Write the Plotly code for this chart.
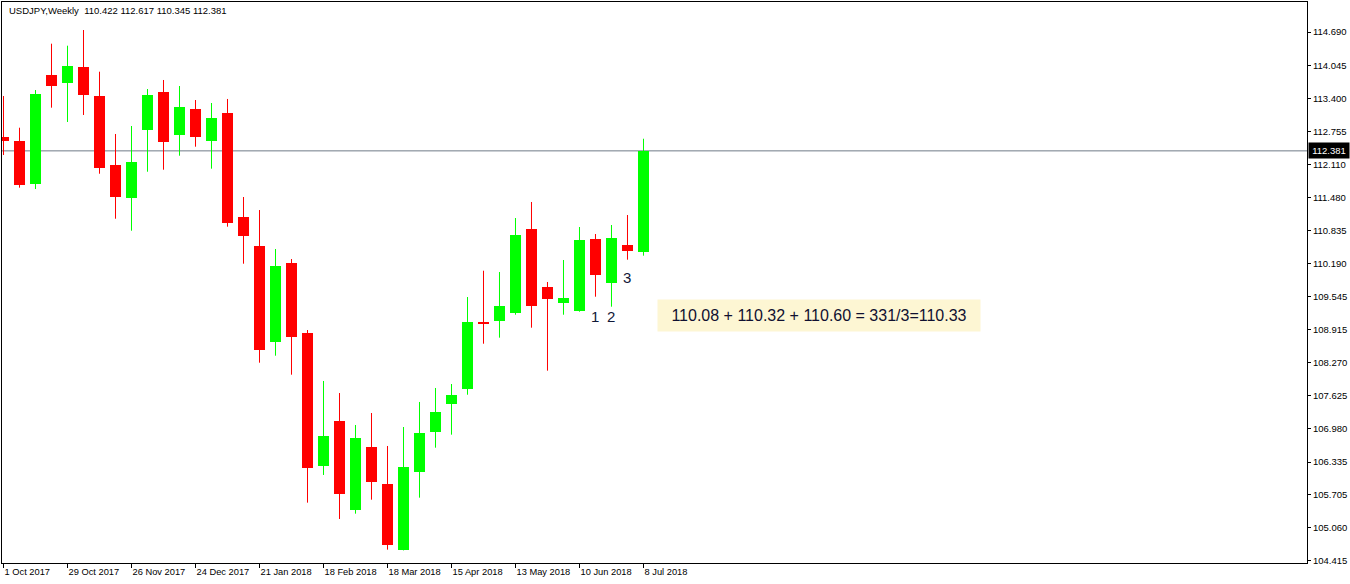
import plotly.graph_objects as go

# ---------------- data (USDJPY weekly) ----------------
week_labels = ["1 Oct 2017", "29 Oct 2017", "26 Nov 2017", "24 Dec 2017", "21 Jan 2018",
               "18 Feb 2018", "18 Mar 2018", "15 Apr 2018", "13 May 2018", "10 Jun 2018",
               "8 Jul 2018"]
label_step = 4  # one date label every 4 weekly bars

opens = [112.650, 112.573, 111.743, 113.855, 113.705, 114.010, 113.447, 112.112, 111.471, 112.792,
         113.524, 112.695, 113.194, 112.578, 113.117, 111.096, 110.533, 108.674, 110.203, 108.843,
         106.265, 107.134, 105.411, 106.629, 105.910, 104.634, 106.149, 106.926, 107.470, 107.761,
         109.057, 109.082, 109.237, 110.863, 109.737, 109.432, 109.276, 110.669, 109.820, 110.552,
         110.422]
highs = [113.447, 112.831, 113.563, 114.463, 114.424, 114.729, 113.919, 112.709, 112.864, 113.583,
         113.758, 113.641, 113.369, 113.311, 113.389, 111.485, 111.232, 110.475, 110.280, 108.901,
         107.911, 107.677, 107.056, 107.289, 106.648, 107.017, 107.503, 107.775, 107.852, 109.542,
         110.053, 110.028, 111.077, 111.388, 109.834, 110.261, 110.902, 110.766, 110.941, 111.135,
         112.617]
lows = [112.301, 111.666, 111.640, 113.220, 112.942, 113.078, 111.937, 111.063, 110.830, 111.976,
        112.015, 112.287, 112.462, 112.035, 110.908, 110.189, 108.266, 108.402, 108.033, 105.547,
        106.085, 105.230, 105.333, 105.605, 104.634, 104.620, 105.644, 106.615, 106.868, 107.644,
        108.635, 108.752, 109.198, 108.946, 108.111, 109.198, 109.257, 109.548, 109.354, 110.267,
        110.345]
closes = [112.573, 111.718, 113.486, 113.647, 114.030, 113.472, 112.054, 111.491, 112.165, 113.466,
          112.559, 113.233, 112.656, 113.019, 110.986, 110.733, 108.519, 110.145, 108.771, 106.226,
          106.842, 105.721, 106.803, 105.955, 104.731, 106.240, 106.901, 107.308, 107.639, 109.057,
          109.018, 109.368, 110.747, 109.373, 109.509, 109.523, 110.650, 109.976, 110.688, 110.442,
          112.381]

price_ticks = [114.690, 114.045, 113.400, 112.755, 112.110, 111.480, 110.835, 110.190, 109.545,
               108.915, 108.270, 107.625, 106.980, 106.335, 105.705, 105.060, 104.415]
bid_price = 112.381
title_text = "USDJPY,Weekly&nbsp; 110.422 112.617 110.345 112.381"

# numbered markers and the note
mark_texts = ["1", "2", "3"]
mark_bars = [37, 38, 39]
mark_prices = [109.16, 109.16, 109.93]
note_text = "110.08 + 110.32 + 110.60 = 331/3=110.33"
note_bar = 50.97
note_price = 109.183

# ---------------- figure ----------------
UP = "#00FF00"
DOWN = "#FF0000"
FONT = "Liberation Sans"

n = len(opens)
xs = list(range(n))
is_up = [c >= o for o, c in zip(opens, closes)]

fig = go.Figure()

# wicks
for flag, col in ((True, UP), (False, DOWN)):
    wx, wy = [], []
    for i in xs:
        if is_up[i] == flag:
            wx += [i, i, None]
            wy += [lows[i], highs[i], None]
    fig.add_trace(go.Scatter(x=wx, y=wy, mode="lines", line=dict(color=col, width=1),
                             hoverinfo="skip", showlegend=False))

# bodies
fig.add_trace(go.Bar(
    x=xs,
    y=[abs(c - o) for o, c in zip(opens, closes)],
    base=[min(o, c) for o, c in zip(opens, closes)],
    width=0.6875,
    marker=dict(color=[UP if u else DOWN for u in is_up], line=dict(width=0)),
    hoverinfo="skip", showlegend=False,
))

# bid line (behind candles)
fig.add_shape(type="line", xref="paper", x0=0, x1=1, yref="y", y0=bid_price, y1=bid_price,
              line=dict(color="#6F7B87", width=1), layer="below")

annotations = [
    dict(text=title_text, xref="paper", yref="paper", x=0, y=1, xshift=5, yshift=-8.5,
         xanchor="left", yanchor="middle", showarrow=False,
         font=dict(family=FONT, size=9.5, color="#000000")),
    dict(text=f"{bid_price:.3f}", xref="paper", yref="y", x=1, y=bid_price, xshift=1,
         xanchor="left", yanchor="middle", showarrow=False, bgcolor="#000000",
         width=38, height=13, font=dict(family=FONT, size=9.5, color="#FFFFFF")),
    dict(text=note_text, xref="x", yref="y", x=note_bar, y=note_price, showarrow=False,
         xanchor="center", yanchor="middle", bgcolor="#FDF6D3", width=320, height=29,
         font=dict(family=FONT, size=16, color="#101030")),
]
for t, b, p in zip(mark_texts, mark_bars, mark_prices):
    annotations.append(dict(text=t, xref="x", yref="y", x=b, y=p, showarrow=False,
                            xanchor="center", yanchor="middle",
                            font=dict(family=FONT, size=15, color="#101838")))

fig.update_layout(
    width=1350, height=584,
    margin=dict(l=2, r=43, t=2, b=21, pad=0),
    paper_bgcolor="#FFFFFF", plot_bgcolor="#FFFFFF",
    showlegend=False, hovermode=False, bargap=0,
    annotations=annotations,
    xaxis=dict(
        range=[-0.094, 81.47], showgrid=False, zeroline=False,
        tickmode="array", tickvals=list(range(0, n, label_step)), ticktext=week_labels,
        ticks="outside", ticklen=4, tickcolor="#000000", tickwidth=1,
        ticklabelposition="outside right",
        tickfont=dict(family=FONT, size=9.3, color="#000000"),
        showline=True, linecolor="#000000", linewidth=1, mirror=True,
        fixedrange=True,
    ),
    yaxis=dict(
        range=[104.375, 115.273], side="right", showgrid=False, zeroline=False,
        tickmode="array", tickvals=price_ticks, ticktext=[f"{v:.3f}" for v in price_ticks],
        ticks="outside", ticklen=3, tickcolor="#000000", tickwidth=1,
        tickfont=dict(family=FONT, size=9.5, color="#000000"),
        showline=True, linecolor="#000000", linewidth=1, mirror=True,
        fixedrange=True,
    ),
)

fig.write_html("out.html", config={"displayModeBar": False},
               post_script="document.body.style.margin='0';document.body.style.overflow='hidden';")
